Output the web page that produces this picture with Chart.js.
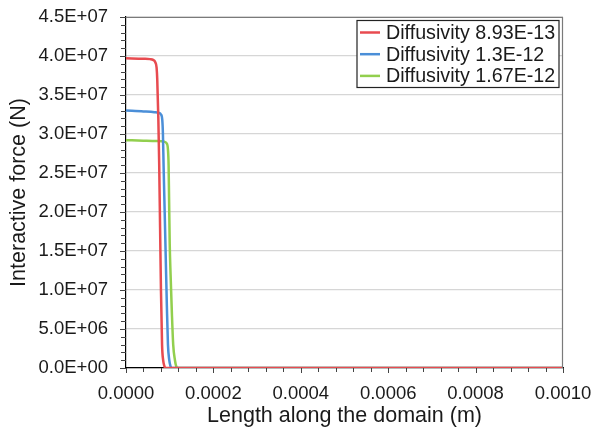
<!DOCTYPE html>
<html>
<head>
<meta charset="utf-8">
<script src="https://cdn.jsdelivr.net/npm/chart.js@4/dist/chart.umd.min.js"></script>
<style>
  html, body { margin: 0; padding: 0; background: #ffffff; }
  #wrap { width: 603px; height: 435px; }
</style>
</head>
<body>
<div id="wrap"><canvas id="c" width="603" height="435"></canvas></div>
<script>
// ---- data ----
const seriesLabels = ['Diffusivity 8.93E-13', 'Diffusivity 1.3E-12', 'Diffusivity 1.67E-12'];
const seriesColors = ['#E84B50', '#4B8FD8', '#92CF4E'];

const redX = [0, 0.00004, 0.000055, 0.000062, 0.000067, 0.00007, 0.0000715, 0.000074, 0.000076, 0.000078, 0.00008, 0.0000825, 0.000085, 0.000088, 0.00009, 0.001];
const redY = [3.97e7, 3.965e7, 3.96e7, 3.95e7, 3.92e7, 3.85e7, 3.7e7, 3.2e7, 2.6e7, 1.8e7, 1.0e7, 3.0e6, 1.0e6, 2.0e5, 0, 0];

const blueX = [0, 0.00004, 0.000065, 0.000075, 0.00008, 0.000083, 0.0000845, 0.000086, 0.0000885, 0.000091, 0.0000935, 0.000096, 0.000099, 0.000102, 0.000104, 0.001];
const blueY = [3.3e7, 3.29e7, 3.28e7, 3.27e7, 3.25e7, 3.18e7, 3.0e7, 2.6e7, 2.0e7, 1.4e7, 8.0e6, 3.0e6, 1.0e6, 2.0e5, 0, 0];

const greenX = [0, 0.00004, 0.00007, 0.000088, 0.000093, 0.000096, 0.0000975, 0.0000985, 0.0001, 0.000102, 0.000105, 0.000108, 0.000112, 0.000115, 0.000118, 0.001];
const greenY = [2.92e7, 2.915e7, 2.91e7, 2.9e7, 2.88e7, 2.8e7, 2.6e7, 2.2e7, 1.6e7, 1.2e7, 7.0e6, 3.0e6, 1.0e6, 2.0e5, 0, 0];

const xMin = 0, xMax = 0.001, xStep = 0.0002, xMinorStep = 0.00004;
const yMin = 0, yMax = 4.5e7, yStep = 5e6, yMinorStep = 1e6;
const xTitle = 'Length along the domain (m)';
const yTitle = 'Interactive force (N)';

// ---- helpers ----
function pts(xs, ys) { return xs.map((x, i) => ({ x: x, y: ys[i] })); }
function excelExp(v) {
  if (v === 0) return '0.0E+00';
  const e = Math.floor(Math.log10(Math.abs(v)) + 1e-9);
  const m = v / Math.pow(10, e);
  const es = (e < 0 ? '-' : '+') + String(Math.abs(e)).padStart(2, '0');
  return m.toFixed(1) + 'E' + es;
}

const FONT = 'Liberation Sans, Arial, sans-serif';
const TEXT = '#1a1a1a';

// minor/major tick marks + frame + legend box
const frameTicks = {
  id: 'frameTicks',
  afterDraw(chart) {
    const { ctx, chartArea: a, scales: { x, y } } = chart;
    ctx.save();
    ctx.strokeStyle = '#7a7a7a';
    ctx.lineWidth = 1.2;
    ctx.beginPath();
    ctx.moveTo(a.left, a.top + 0.5);
    ctx.lineTo(a.right - 0.5, a.top + 0.5);
    ctx.lineTo(a.right - 0.5, a.bottom);
    ctx.stroke();
    ctx.strokeStyle = '#444444';
    ctx.lineWidth = 1;
    ctx.beginPath();
    const ny = Math.round((yMax - yMin) / yMinorStep);
    for (let i = 0; i <= ny; i++) {
      const v = yMin + i * yMinorStep;
      const py = Math.round(y.getPixelForValue(v)) + 0.5;
      const len = (i % 5 === 0) ? 6 : 5;
      ctx.moveTo(a.left - len, py);
      ctx.lineTo(a.left, py);
    }
    const nx = Math.round((xMax - xMin) / xMinorStep);
    for (let i = 0; i <= nx; i++) {
      const v = xMin + i * xMinorStep;
      const px = Math.round(x.getPixelForValue(v)) + 0.5;
      const len = (i % 5 === 0) ? 5 : 4;
      ctx.moveTo(px, a.bottom);
      ctx.lineTo(px, a.bottom + len);
    }
    ctx.stroke();
    // legend
    const lx0 = a.right - 206, ly0 = a.top + 3.5, lw = 202, lh = 67;
    ctx.fillStyle = '#ffffff';
    ctx.fillRect(lx0, ly0, lw, lh);
    ctx.strokeStyle = '#222222';
    ctx.lineWidth = 1.2;
    ctx.strokeRect(lx0, ly0, lw, lh);
    ctx.font = '19.7px ' + FONT;
    ctx.textBaseline = 'middle';
    ctx.textAlign = 'left';
    chart.data.datasets.forEach((ds, i) => {
      const cy = ly0 + 12 + i * 21.7;
      ctx.strokeStyle = ds.borderColor;
      ctx.lineWidth = 2.5;
      ctx.beginPath();
      ctx.moveTo(lx0 + 3, cy);
      ctx.lineTo(lx0 + 23, cy);
      ctx.stroke();
      ctx.fillStyle = TEXT;
      ctx.fillText(ds.label, lx0 + 29, cy + 1);
    });
    ctx.restore();
  }
};

const datasets = [pts(redX, redY), pts(blueX, blueY), pts(greenX, greenY)].map((d, i) => ({
  label: seriesLabels[i],
  data: d,
  borderColor: seriesColors[i],
  backgroundColor: seriesColors[i],
  borderWidth: 2.5,
  pointRadius: 0,
  showLine: true,
  fill: false,
  cubicInterpolationMode: 'monotone'
}));

new Chart(document.getElementById('c'), {
  type: 'scatter',
  data: { datasets: datasets },
  options: {
    responsive: false,
    animation: false,
    devicePixelRatio: 1,
    layout: { autoPadding: false, padding: { top: 17, right: 40, left: 0, bottom: 0 } },
    plugins: { legend: { display: false }, tooltip: { enabled: false } },
    scales: {
      x: {
        type: 'linear', min: xMin, max: xMax,
        afterFit(s) { s.height = 67; s.paddingLeft = 0; s.paddingRight = 0; },
        ticks: {
          stepSize: xStep, padding: 15, color: TEXT,
          font: { family: FONT, size: 18.5 },
          maxRotation: 0, autoSkip: false,
          callback: v => Number(v).toFixed(4)
        },
        grid: { display: false, drawTicks: false },
        border: { display: true, color: '#000000', width: 1.2 },
        title: { display: true, text: xTitle, color: TEXT, font: { family: FONT, size: 21.5 }, padding: { top: 0, bottom: 6 } }
      },
      y: {
        type: 'linear', min: yMin, max: yMax,
        afterFit(s) { s.width = 126; s.paddingTop = 0; s.paddingBottom = 0; },
        ticks: {
          stepSize: yStep, padding: 18, color: TEXT,
          font: { family: FONT, size: 18.5 },
          callback: v => excelExp(v)
        },
        grid: { display: true, drawTicks: false, color: '#d6d6d6', lineWidth: 1.2 },
        border: { display: true, color: '#000000', width: 1.2 },
        title: { display: true, text: yTitle, color: TEXT, font: { family: FONT, size: 21.5 }, padding: { top: 6, bottom: 0 } }
      }
    }
  },
  plugins: [frameTicks]
});
</script>
</body>
</html>
